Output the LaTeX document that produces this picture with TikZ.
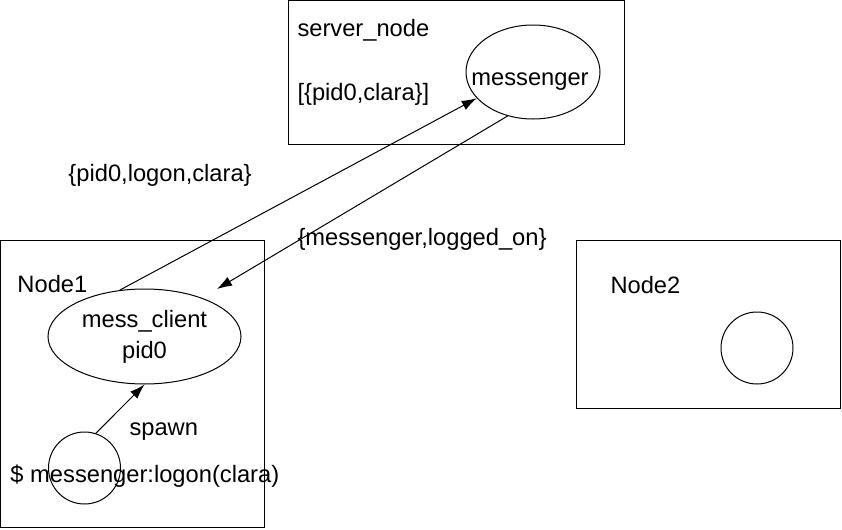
\documentclass[tikz,border=0pt]{standalone}
\usepackage{fontspec}
\setmainfont{Liberation Sans}
\usetikzlibrary{arrows.meta,shapes.geometric}

\begin{document}
\begin{tikzpicture}[x=0.5pt,y=-0.5pt,line width=0.5pt,font=\fontsize{11.85}{15.5}\selectfont]
        \tikzstyle{erlbox}=[
            rectangle,
            draw=black,
            inner sep=0pt
        ]
        \tikzstyle{proc}=[
            ellipse,
            draw=black,
            inner sep=0pt,
            align=center
        ]
        \tikzstyle{txt}=[anchor=base west, inner sep=0pt]
        \tikzstyle{msgarrow}=[-{Latex[length=7.5pt,width=5pt]}]

        \useasboundingbox (0,0) rectangle (842,530);

        % erlang nodes
        \node[erlbox, minimum width=168pt, minimum height=71.5pt] (server) at (456,72.5){};
        \node[erlbox, minimum width=132pt, minimum height=143.5pt] (node1) at (132.5,383.5){};
        \node[erlbox, minimum width=132pt, minimum height=84pt] (node2) at (708,324){};

        % processes
        \node[proc, minimum width=67pt, minimum height=47pt] (msg) at (533,72){};
        \node[proc, minimum width=96.5pt, minimum height=47.5pt] (mc) at (144.5,336.5){mess\_client\\pid0};
        \node[proc, circle, minimum size=36pt] (shell) at (84.5,468){};
        \node[proc, circle, minimum size=36pt] (proc2) at (757,348){};

        % texts
        \node[txt] (servername) at (297,37){server\_node};
        \node[txt] (clients) at (297,100){[\{pid0,clara\}]};
        \node[anchor=base, inner sep=0pt] (msgname) at (530,85){messenger};
        \node[txt] (node1name) at (17,292){Node1};
        \node[txt] (node2name) at (610,293){Node2};
        \node[txt] (spawnlbl) at (129,435){spawn};
        \node[txt] (shellcmd) at (10,482){\$ messenger:logon(clara)};
        \node[txt] (logonlbl) at (68,181){\{pid0,logon,clara\}};
        \node[txt] (acklbl) at (297,245){\{messenger,logged\_on\}};

        % messages
        \coordinate (ackend) at (217,289);
        \draw[msgarrow] (mc.118) -- (msg.205);
        \draw[msgarrow] (msg.240) -- (ackend);
        \draw[msgarrow] (shell.72) -- (mc.south);

    \end{tikzpicture}
\end{document}
